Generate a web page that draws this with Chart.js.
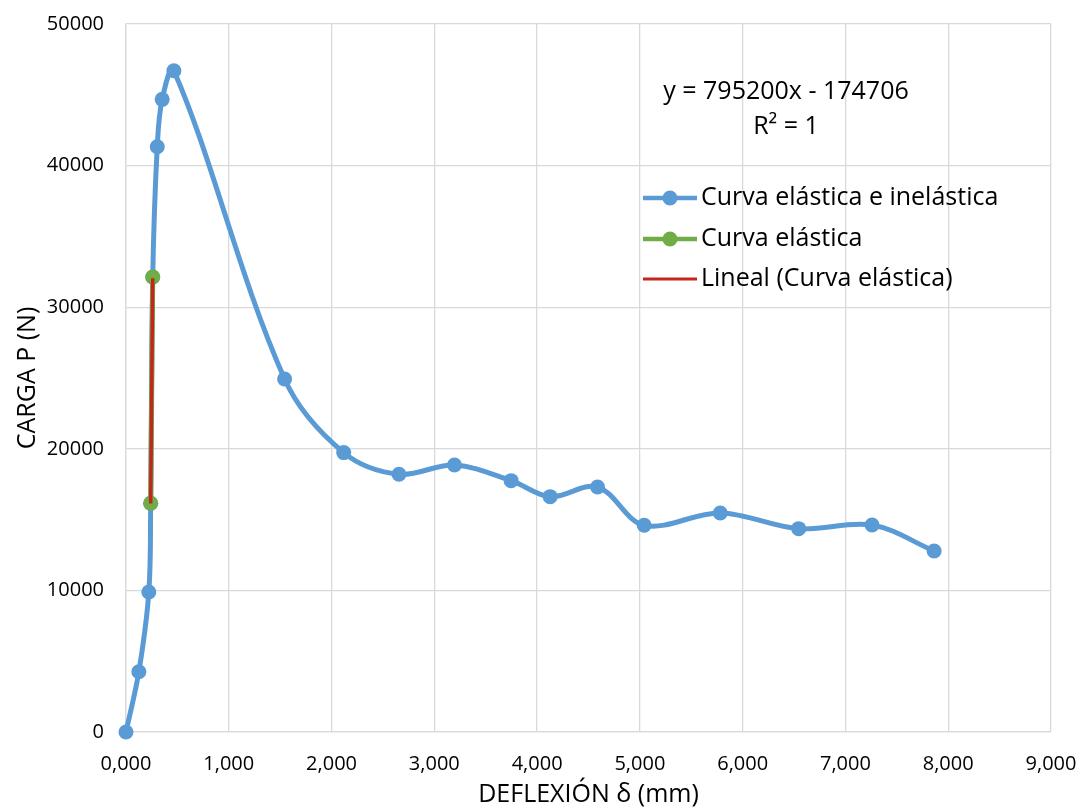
<!DOCTYPE html>
<html>
<head>
<meta charset="utf-8">
<script src="https://cdn.jsdelivr.net/npm/chart.js@4.4.1/dist/chart.umd.min.js"></script>
<style>
    html, body { margin: 0; padding: 0; background: #fff; }
    #wrap { width: 1084px; height: 810px; }
</style>
</head>
<body>
<div id="wrap"><canvas id="grafico" width="1084" height="810"></canvas></div>
<script>
// datos
const deflexion = [0, 0.125, 0.222, 0.240, 0.260, 0.304, 0.352, 0.466, 1.543, 2.118, 2.656,
    3.196, 3.747, 4.127, 4.588, 5.042, 5.782, 6.545, 7.259, 7.863];
const carga = [0, 4260, 9890, 16150, 32130, 41330, 44680, 46700, 24930, 19730, 18200,
    18860, 17750, 16620, 17300, 14600, 15470, 14360, 14620, 12780];

const deflexionElastica = [0.240, 0.260];
const cargaElastica = [16150, 32130];

const deflexionLineal = [0.240, 0.260];
const cargaLineal = [16142, 32046];

const nombresSeries = ['Curva elástica e inelástica', 'Curva elástica', 'Lineal (Curva elástica)'];
const ecuacion = ['y = 795200x - 174706', 'R² = 1'];

const xTicks = [0, 1, 2, 3, 4, 5, 6, 7, 8, 9];
const xTickLabels = ['0,000', '1,000', '2,000', '3,000', '4,000', '5,000', '6,000', '7,000', '8,000', '9,000'];
const yTicks = [0, 10000, 20000, 30000, 40000, 50000];

const FUENTE = '"Open Sans", "Noto Sans", sans-serif';
const AZUL = '#5b9bd5';
const VERDE = '#70ad47';
const ROJO = '#c4261d';

const puntos = (xs, ys) => xs.map((x, i) => ({ x: x, y: ys[i] }));

// leyenda y ecuacion dentro del area del grafico
const leyendaPlugin = {
    id: 'leyendaExcel',
    afterDraw: function (chart) {
        const ctx = chart.ctx;
        ctx.save();
        ctx.font = '25px ' + FUENTE;
        ctx.fillStyle = '#000';
        ctx.textBaseline = 'middle';
        ctx.textAlign = 'center';
        ctx.fillText(ecuacion[0], 786, 92);
        ctx.fillText(ecuacion[1], 786, 127);

        const filas = [198, 239, 279];
        chart.data.datasets.forEach(function (ds, i) {
            const y = filas[i];
            ctx.beginPath();
            ctx.moveTo(643, y);
            ctx.lineTo(697, y);
            ctx.strokeStyle = ds.borderColor;
            ctx.lineWidth = ds.pointRadius ? 4.5 : 3;
            ctx.stroke();
            if (ds.pointRadius) {
                ctx.beginPath();
                ctx.arc(670, y, 7.5, 0, Math.PI * 2);
                ctx.fillStyle = ds.backgroundColor;
                ctx.fill();
            }
            ctx.fillStyle = '#000';
            ctx.textAlign = 'left';
            ctx.fillText(ds.label, 701, y);
        });
        ctx.restore();
    }
};

new Chart(document.getElementById('grafico'), {
    type: 'scatter',
    data: {
        datasets: [
            {
                label: nombresSeries[0],
                data: puntos(deflexion, carga),
                showLine: true,
                borderColor: AZUL,
                backgroundColor: AZUL,
                borderWidth: 5,
                pointRadius: 7.5,
                pointBorderWidth: 0,
                tension: 0.35,
                clip: false,
                order: 3
            },
            {
                label: nombresSeries[1],
                data: puntos(deflexionElastica, cargaElastica),
                showLine: true,
                borderColor: VERDE,
                backgroundColor: VERDE,
                borderWidth: 5,
                pointRadius: 7.5,
                pointBorderWidth: 0,
                clip: false,
                order: 2
            },
            {
                label: nombresSeries[2],
                data: puntos(deflexionLineal, cargaLineal),
                showLine: true,
                borderColor: ROJO,
                backgroundColor: ROJO,
                borderWidth: 3.5,
                pointRadius: 0,
                order: 1
            }
        ]
    },
    options: {
        responsive: false,
        animation: false,
        layout: { padding: { left: 0, right: 33, top: 24, bottom: 0 } },
        plugins: {
            legend: { display: false },
            tooltip: { enabled: false }
        },
        scales: {
            x: {
                type: 'linear',
                min: 0, max: 9,
                afterBuildTicks: s => { s.ticks = xTicks.map(v => ({ value: v })); },
                afterFit: s => {
                    s.height = 78;
                    s.paddingLeft = 0;
                    s.paddingRight = 0;
                },
                grid: { color: '#d9d9d9', lineWidth: 1.3, drawTicks: false },
                border: { color: '#d9d9d9', width: 1.3 },
                ticks: {
                    color: '#000',
                    padding: 20,
                    font: { family: FUENTE, size: 20 },
                    callback: (v, i) => xTickLabels[i]
                },
                title: {
                    display: true,
                    text: 'DEFLEXIÓN δ (mm)',
                    color: '#000',
                    font: { family: FUENTE, size: 25 },
                    padding: { top: 0, bottom: 0 }
                }
            },
            y: {
                min: 0, max: 50000,
                afterBuildTicks: s => { s.ticks = yTicks.map(v => ({ value: v })); },
                afterFit: s => {
                    s.width = 126;
                    s.paddingTop = 0;
                    s.paddingBottom = 0;
                },
                grid: { color: '#d9d9d9', lineWidth: 1.3, drawTicks: false },
                border: { color: '#d9d9d9', width: 1.3 },
                ticks: {
                    color: '#000',
                    padding: 22,
                    font: { family: FUENTE, size: 20 },
                    callback: v => String(v)
                },
                title: {
                    display: true,
                    text: 'CARGA P (N)',
                    color: '#000',
                    font: { family: FUENTE, size: 25 },
                    padding: { top: 13, bottom: 0 }
                }
            }
        }
    },
    plugins: [leyendaPlugin]
});
</script>
</body>
</html>
